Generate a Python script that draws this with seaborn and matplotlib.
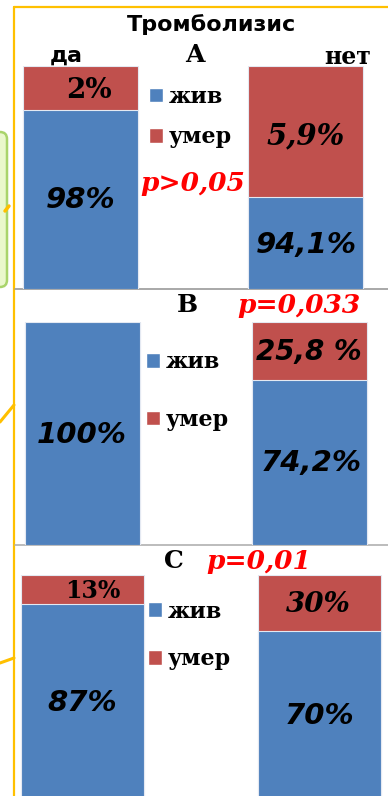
import matplotlib
matplotlib.use("Agg")
import matplotlib.pyplot as plt
import seaborn as sns
from matplotlib.patches import Patch, FancyBboxPatch

# --- data (bar heights as drawn on the slide, labels as printed) ---
groups = ["да", "нет"]
series = ["жив", "умер"]
panels = ["A", "B", "C"]
p_values = ["p>0,05", "p=0,033", "p=0,01"]

alive_a = [80, 41]
alive_b = [100, 74.2]
alive_c = [87, 75]
total = [100, 100]

alive_labels_a = ["98%", "94,1%"]
dead_labels_a = ["2%", "5,9%"]
alive_labels_b = ["100%", "74,2%"]
dead_labels_b = ["", "25,8 %"]
alive_labels_c = ["87%", "70%"]
dead_labels_c = ["13%", "30%"]

BLUE = "#4F81BD"
RED = "#C0504D"
YELLOW = "#FFC000"
W, H = 388, 796

sns.set_theme(style="white")
plt.rcParams["font.family"] = ["DejaVu Sans"]
plt.rcParams["text.color"] = "black"

fig = plt.figure(figsize=(W / 100, H / 100), dpi=100)


def px(x, y):
    return x / W, 1 - y / H


# background decorations of the slide (pixel coordinates)
bg = fig.add_axes([0, 0, 1, 1], zorder=0)
bg.set_xlim(0, W)
bg.set_ylim(H, 0)
bg.axis("off")
bg.add_patch(FancyBboxPatch((-12, 132), 19, 155, boxstyle="round,pad=0,rounding_size=7",
                            facecolor="#EAF8CC", edgecolor="#A9D46B", linewidth=1.8))
bg.plot([14, 14], [7, H], color=YELLOW, lw=1.6)
bg.plot([14, W], [7, 7], color=YELLOW, lw=1.6)
bg.plot([5, 9], [211, 206], color=YELLOW, lw=2.5)
bg.plot([0, 14], [422, 405], color=YELLOW, lw=2.2)
bg.plot([0, 14], [663, 658], color=YELLOW, lw=2.2)
bg.plot([15, W], [289, 289], color="#9a9a9a", lw=1.2)
bg.plot([15, W], [545, 545], color="#b0b0b0", lw=1.2)

# panel geometry in pixels: bar top/bottom, bar centres, bar width
layout = {
    "A": (65.5, 289, 80.5, 305.5, 115),
    "B": (322, 545, 82.5, 309.5, 115),
    "C": (575, 797, 82.5, 319.5, 123),
}
alive = {"A": alive_a, "B": alive_b, "C": alive_c}

for name in panels:
    top, bottom, c0, c1, bw = layout[name]
    step = c1 - c0
    ax = fig.add_axes([0, 1 - bottom / H, 1, (bottom - top) / H], zorder=1)
    ax.patch.set_alpha(0)
    sns.barplot(x=groups, y=total, color=RED, saturation=1, width=bw / step,
                edgecolor="#e4e9f2", linewidth=0.8, ax=ax)
    sns.barplot(x=groups, y=alive[name], color=BLUE, saturation=1, width=bw / step,
                edgecolor="#e4e9f2", linewidth=0.8, ax=ax)
    ax.set_xlim(-c0 / step, (W - c0) / step)
    ax.set_ylim(0, 100)
    ax.axis("off")

# legends
legend_pos = {"A": (149, 86, 0.83), "B": (146, 351.5, 1.6), "C": (148, 600.5, 1.17)}
for name in panels:
    x, y, spacing = legend_pos[name]
    handles = [Patch(facecolor=BLUE), Patch(facecolor=RED)]
    fig.legend(handles, series, loc="upper left", bbox_to_anchor=px(x, y),
               frameon=False, borderpad=0, borderaxespad=0,
               handlelength=0.62, handleheight=0.62, handletextpad=0.28,
               labelspacing=spacing,
               prop={"family": "DejaVu Serif", "weight": "bold", "size": 16})

serif_b = dict(family="DejaVu Serif", weight="bold")
serif_bi = dict(family="DejaVu Serif", weight="bold", style="italic")
sans_bi = dict(family="DejaVu Sans", weight="bold", style="italic")

# headings
fig.text(*px(212, 25), "Тромболизис", ha="center", va="center", fontsize=16, weight="bold")
fig.text(*px(66, 56), groups[0], ha="center", va="center", fontsize=16, weight="bold")
fig.text(*px(348, 57), groups[1], ha="center", va="center", fontsize=17, **serif_b)
fig.text(*px(195, 55), panels[0], ha="center", va="center", fontsize=18, **serif_b)
fig.text(*px(187, 305), panels[1], ha="center", va="center", fontsize=18, **serif_b)
fig.text(*px(174, 561), panels[2], ha="center", va="center", fontsize=18, **serif_b)

# p-values
fig.text(*px(193, 183), p_values[0], ha="center", va="center", fontsize=19, color="red", **serif_bi)
fig.text(*px(299, 305), p_values[1], ha="center", va="center", fontsize=19, color="red", **serif_bi)
fig.text(*px(259, 562), p_values[2], ha="center", va="center", fontsize=19, color="red", **serif_bi)

# value labels
fig.text(*px(89, 91), dead_labels_a[0], ha="center", va="center", fontsize=20, **serif_b)
fig.text(*px(306, 136), dead_labels_a[1], ha="center", va="center", fontsize=21, **serif_bi)
fig.text(*px(81, 200), alive_labels_a[0], ha="center", va="center", fontsize=21, **sans_bi)
fig.text(*px(306, 245), alive_labels_a[1], ha="center", va="center", fontsize=21, **sans_bi)

fig.text(*px(309, 352), dead_labels_b[1], ha="center", va="center", fontsize=20, **sans_bi)
fig.text(*px(82, 435), alive_labels_b[0], ha="center", va="center", fontsize=21, **sans_bi)
fig.text(*px(311, 463), alive_labels_b[1], ha="center", va="center", fontsize=21, **sans_bi)

fig.text(*px(93, 591), dead_labels_c[0], ha="center", va="center", fontsize=17, **serif_b)
fig.text(*px(318, 604), dead_labels_c[1], ha="center", va="center", fontsize=20, **serif_bi)
fig.text(*px(82, 703), alive_labels_c[0], ha="center", va="center", fontsize=21, **sans_bi)
fig.text(*px(320, 716), alive_labels_c[1], ha="center", va="center", fontsize=21, **sans_bi)

fig.savefig("out.png", dpi=100)
